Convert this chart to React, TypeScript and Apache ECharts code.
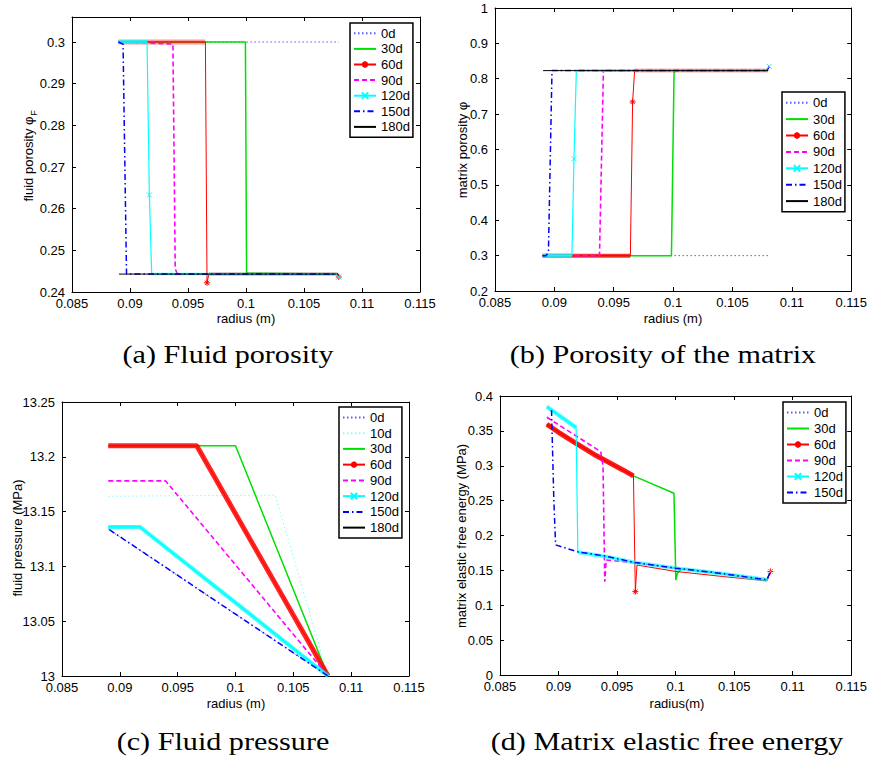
import React, { useEffect, useRef } from 'react';
import * as echarts from 'echarts';

// ---------- legend entries ----------
const DAYS_A = ['0d', '30d', '60d', '90d', '120d', '150d', '180d'];
const DAYS_B = ['0d', '30d', '60d', '90d', '120d', '150d', '180d'];
const DAYS_C = ['0d', '10d', '30d', '60d', '90d', '120d', '150d', '180d'];
const DAYS_D = ['0d', '30d', '60d', '90d', '120d', '150d'];

// ---------- axis ranges [min, max, interval] ----------
const RADIUS_RANGE = [0.085, 0.115, 0.005];
const Y_RANGE_A = [0.24, 0.306, 0.01];
const Y_RANGE_B = [0.2, 1, 0.1];
const Y_RANGE_C = [13, 13.25, 0.05];
const Y_RANGE_D = [0, 0.4, 0.05];

// ---------- (a) fluid porosity ----------
const aPhiF0d = [[0.089, 0.3], [0.108, 0.3]];
const aPhiF30d = [[0.089, 0.3], [0.09995, 0.3], [0.10005, 0.2445], [0.1079, 0.2443], [0.108, 0.2436]];
const aPhiF60dTop = [[0.089, 0.3], [0.0965, 0.3]];
const aPhiF60dDip = [[0.09664, 0.2422]];
const aPhiF60dBottom = [[0.0968, 0.2443], [0.1079, 0.2443]];
const aPhiF60dEnd = [[0.108, 0.2436]];
const aPhiF90d = [[0.089, 0.3], [0.0937, 0.2995], [0.0939, 0.2455], [0.0941, 0.2443], [0.108, 0.2443]];
const aPhiF120dTop = [[0.089, 0.3], [0.09147, 0.3]];
const aPhiF120dMid = [[0.09167, 0.2633]];
const aPhiF120dBottom = [[0.09187, 0.2443], [0.1079, 0.2443]];
const aPhiF120dEnd = [[0.108, 0.2436]];
const aPhiF150d = [[0.089, 0.3], [0.0894, 0.2995], [0.0897, 0.2443], [0.1079, 0.2443], [0.108, 0.2436]];
const aPhiF180d = [[0.08905, 0.2443], [0.1078, 0.2443]];

// ---------- (b) matrix porosity ----------
const bPhi0d = [[0.089, 0.3], [0.108, 0.3]];
const bPhi30d = [[0.089, 0.3], [0.09986, 0.3], [0.10008, 0.818], [0.1003, 0.823], [0.108, 0.823]];
const bPhi60dLow = [[0.089, 0.3], [0.0964, 0.3]];
const bPhi60dMid = [[0.09659, 0.7345]];
const bPhi60dHigh = [[0.09676, 0.823], [0.108, 0.823]];
const bPhi90d = [[0.089, 0.3], [0.0938, 0.3], [0.09413, 0.823], [0.108, 0.823]];
const bPhi120dLow = [[0.089, 0.3], [0.09148, 0.3]];
const bPhi120dMid = [[0.09165, 0.574]];
const bPhi120dHigh = [[0.09185, 0.823], [0.1079, 0.823]];
const bPhi120dEnd = [[0.1081, 0.835]];
const bPhi150d = [[0.089, 0.3], [0.0893, 0.3], [0.0895, 0.31], [0.0898, 0.823], [0.1079, 0.823], [0.1081, 0.835]];
const bPhi180d = [[0.08905, 0.823], [0.108, 0.823]];

// ---------- (c) fluid pressure ----------
const cP0d = [[0.089, 13.134], [0.108, 13.0]];
const cP10d = [[0.089, 13.164], [0.10344, 13.165], [0.108, 13.0]];
const cP30d = [[0.089, 13.21], [0.1, 13.21], [0.108, 13.0]];
const cP60d = [[0.089, 13.21], [0.09665, 13.21], [0.108, 13.0]];
const cP90d = [[0.089, 13.178], [0.09396, 13.178], [0.108, 13.0]];
const cP120d = [[0.089, 13.136], [0.09174, 13.136], [0.108, 13.0]];
const cP150d = [[0.0891, 13.1335], [0.108, 13.0]];
const cP180d: number[][] = [];

// ---------- (d) matrix elastic free energy ----------
const dLowerTail = [[0.0965, 0.1613], [0.1, 0.1532], [0.1037, 0.146], [0.1078, 0.1365]];
const dEnd = [[0.1081, 0.1485]];
const dE0d: number[][] = [];
const dE30d = [[0.089, 0.3595], [0.0915, 0.3322], [0.094, 0.3075], [0.0964, 0.2854], [0.09986, 0.2606], [0.10002, 0.136], [0.10016, 0.146], [0.1005, 0.1525], [0.1037, 0.146], [0.1078, 0.1365], [0.1081, 0.1485]];
const dE60dUpper = [[0.089, 0.3595], [0.09, 0.348], [0.0915, 0.3322], [0.093, 0.3165], [0.094, 0.3075], [0.0955, 0.294], [0.0964, 0.2854]];
const dE60dDip = [[0.09656, 0.1195]];
const dE60dLower = [[0.0967, 0.1576], [0.1, 0.1485], [0.104, 0.1412], [0.1078, 0.135]];
const dE90dHead = [[0.089, 0.3695], [0.0936, 0.3203], [0.0938, 0.3], [0.09395, 0.1337], [0.09407, 0.1648]];
const dE120dUpper = [[0.089, 0.3847], [0.0915, 0.3547]];
const dE120dLower = [[0.09165, 0.1761], [0.094, 0.17]];
const dE150dHead = [[0.0894, 0.38], [0.0896, 0.25], [0.08975, 0.1866], [0.09165, 0.1765], [0.094, 0.1705]];

// ---------- styling ----------
const SANS = "'Liberation Sans', Arial, Helvetica, sans-serif";
const SERIF = "'Liberation Serif', 'Times New Roman', serif";
const STAR = 'path://M5,0L5,10M0,5L10,5M1.5,1.5L8.5,8.5M1.5,8.5L8.5,1.5';
const XMARK = 'path://M0,0L10,10M0,10L10,0';

const STY: Record<string, any> = {
  '0d': { color: '#5a5aff', type: [1.5, 2.5], width: 1 },
  '10d': { color: '#80ffff', type: [1.5, 2.5], width: 1 },
  '30d': { color: '#00e000', type: 'solid', width: 1.5 },
  '60d': { color: '#ff0000', type: 'solid', width: 1, symbol: STAR, symbolSize: 6 },
  '90d': { color: '#ff00ff', type: [5, 3], width: 1.6 },
  '120d': { color: '#00ffff', type: 'solid', width: 1.2, symbol: XMARK, symbolSize: 5 },
  '150d': { color: '#0000ff', type: [6, 3, 1.5, 3], width: 1.5 },
  '180d': { color: '#000000', type: 'solid', width: 1 },
};

// data: list of point arrays; marked: the arrays whose points carry a marker
function line(name: string, parts: number[][][], gi: number, marked: number[][][] = []) {
  const s = STY[name];
  const data: any[] = [];
  parts.forEach((p) => {
    const m = marked.includes(p);
    p.forEach((v) => data.push(m ? { value: v } : { value: v, symbol: 'none' }));
  });
  return {
    type: 'line',
    name,
    data,
    xAxisIndex: gi,
    yAxisIndex: gi,
    symbol: s.symbol || 'circle',
    symbolSize: s.symbolSize || 4,
    showSymbol: !!s.symbol,
    showAllSymbol: true,
    lineStyle: { color: s.color, width: s.width, type: s.type },
    itemStyle: { color: s.color, borderColor: s.color, borderWidth: 1 },
    emphasis: { disabled: true },
    silent: true,
  };
}

function band(name: string, data: number[][], gi: number, width: number, opacity: number) {
  return {
    type: 'line',
    data,
    xAxisIndex: gi,
    yAxisIndex: gi,
    symbol: 'none',
    silent: true,
    emphasis: { disabled: true },
    lineStyle: { color: STY[name].color, width, opacity, type: 'solid' },
  };
}

const fmt = (v: number) => String(parseFloat(v.toFixed(4)));

const GRIDS = [
  { left: 72, top: 17, width: 348, height: 275 },
  { left: 495, top: 8, width: 358, height: 283 },
  { left: 62, top: 402, width: 347, height: 274 },
  { left: 500, top: 396, width: 353, height: 279 },
];
const Y_RANGES = [Y_RANGE_A, Y_RANGE_B, Y_RANGE_C, Y_RANGE_D];

function legendItems(days: string[]) {
  return days.map((n) => (STY[n].symbol ? { name: n } : { name: n, itemStyle: { opacity: 0 } }));
}

function buildOption() {
  const xAxis: any[] = [];
  const yAxis: any[] = [];
  const axisCommon = (show: boolean) => ({
    type: 'value',
    axisLine: { show: true, onZero: false, lineStyle: { color: '#000', width: 1 } },
    axisTick: { show: true, inside: true, length: 4, lineStyle: { color: '#000' } },
    splitLine: { show: false },
    axisLabel: { show, color: '#000', fontSize: 13, fontFamily: SANS, formatter: fmt },
  });
  for (let pass = 0; pass < 2; pass++) {
    for (let i = 0; i < 4; i++) {
      const c = axisCommon(pass === 0);
      xAxis.push({
        ...c,
        gridIndex: i,
        position: pass === 0 ? 'bottom' : 'top',
        min: RADIUS_RANGE[0],
        max: RADIUS_RANGE[1],
        interval: RADIUS_RANGE[2],
        axisLabel: { ...c.axisLabel, margin: 5 },
      });
      const yr = Y_RANGES[i];
      const cy = axisCommon(pass === 0);
      yAxis.push({
        ...cy,
        gridIndex: i,
        position: pass === 0 ? 'left' : 'right',
        min: yr[0],
        max: yr[1],
        interval: yr[2],
        axisLabel: { ...cy.axisLabel, margin: 7, showMaxLabel: i !== 0 },
      });
    }
  }

  const series: any[] = [
    // (a)
    line('0d', [aPhiF0d], 0),
    line('30d', [aPhiF30d], 0),
    line('60d', [aPhiF60dTop, aPhiF60dDip, aPhiF60dBottom, aPhiF60dEnd], 0, [aPhiF60dDip, aPhiF60dEnd]),
    band('60d', aPhiF60dTop, 0, 5, 0.4),
    band('60d', aPhiF60dBottom, 0, 4, 0.25),
    line('90d', [aPhiF90d], 0),
    line('120d', [aPhiF120dTop, aPhiF120dMid, aPhiF120dBottom, aPhiF120dEnd], 0, [aPhiF120dMid, aPhiF120dEnd]),
    band('120d', aPhiF120dTop, 0, 4, 0.75),
    band('120d', aPhiF120dBottom, 0, 3, 0.35),
    line('150d', [aPhiF150d], 0),
    line('180d', [aPhiF180d], 0),
    // (b)
    line('0d', [bPhi0d], 1),
    line('30d', [bPhi30d], 1),
    line('60d', [bPhi60dLow, bPhi60dMid, bPhi60dHigh], 1, [bPhi60dMid]),
    band('60d', bPhi60dLow, 1, 4, 0.8),
    band('60d', bPhi60dHigh, 1, 4, 0.3),
    line('90d', [bPhi90d], 1),
    line('120d', [bPhi120dLow, bPhi120dMid, bPhi120dHigh, bPhi120dEnd], 1, [bPhi120dMid, bPhi120dEnd]),
    band('120d', bPhi120dLow, 1, 4, 0.8),
    band('120d', bPhi120dHigh, 1, 3, 0.45),
    line('150d', [bPhi150d], 1),
    line('180d', [bPhi180d], 1),
    // (c)
    line('0d', [cP0d], 2),
    line('10d', [cP10d], 2),
    line('30d', [cP30d], 2),
    line('60d', [cP60d], 2),
    band('60d', cP60d, 2, 5, 0.85),
    line('90d', [cP90d], 2),
    line('120d', [cP120d], 2),
    band('120d', cP120d, 2, 4, 0.8),
    line('150d', [cP150d], 2),
    line('180d', [cP180d], 2),
    // (d)
    line('0d', [dE0d], 3),
    line('30d', [dE30d], 3),
    line('60d', [dE60dUpper, dE60dDip, dE60dLower, dEnd], 3, [dE60dDip, dEnd]),
    band('60d', dE60dUpper, 3, 5, 0.9),
    line('90d', [dE90dHead, dLowerTail, dEnd], 3),
    line('120d', [dE120dUpper, dE120dLower, dLowerTail, dEnd], 3, [dEnd]),
    band('120d', dE120dUpper, 3, 4, 0.8),
    band('120d', [...dE120dLower, ...dLowerTail], 3, 4, 0.6),
    line('150d', [dE150dHead, dLowerTail, dEnd], 3),
  ];

  const legendCommon = (lh: number) => ({
    orient: 'vertical',
    itemWidth: 22,
    itemHeight: 8,
    itemGap: 0,
    padding: [2.5, 3, 2.5, 3],
    borderColor: '#000',
    borderWidth: 1.5,
    borderRadius: 0,
    backgroundColor: '#fff',
    selectedMode: false,
    textStyle: { fontSize: 13, fontFamily: SANS, color: '#000', lineHeight: lh },
  });
  const legend = [
    { ...legendCommon(15.6), data: legendItems(DAYS_A), left: 350, top: 23 },
    { ...legendCommon(16.4), data: legendItems(DAYS_B), left: 782, top: 92 },
    { ...legendCommon(15.75), data: legendItems(DAYS_C), left: 339, top: 407 },
    { ...legendCommon(16), data: legendItems(DAYS_D), left: 783, top: 402 },
  ];

  const t = (text: string, x: number, y: number, size: number, font: string, rot = 0, sx = 1) => ({
    type: 'text',
    x,
    y,
    rotation: rot,
    scaleX: sx,
    silent: true,
    style: { text, fontSize: size, fontFamily: font, fill: '#000', align: 'center', verticalAlign: 'middle' },
  });
  const R = Math.PI / 2;
  const CAP = 1.16;
  const graphic = [
    t('fluid porosity φ', 28, 159, 13, SANS, R),
    t('F', 34, 113, 9, SANS, R),
    t('matrix porosity φ', 462.5, 150, 13, SANS, R),
    t('fluid pressure (MPa)', 17, 538, 13, SANS, R),
    t('matrix elastic free energy (MPa)', 461, 536, 13, SANS, R),
    t('radius (m)', 246, 318, 13, SANS),
    t('radius (m)', 673, 318, 13, SANS),
    t('radius (m)', 236, 703, 13, SANS),
    t('radius(m)', 677, 703, 13, SANS),
    t('(a) Fluid porosity', 228, 354, 26, SERIF, 0, CAP),
    t('(b) Porosity of the matrix', 663, 354, 26, SERIF, 0, CAP),
    t('(c) Fluid pressure', 223, 741, 26, SERIF, 0, CAP),
    t('(d) Matrix elastic free energy', 667, 741, 26, SERIF, 0, CAP),
  ];

  return {
    animation: false,
    backgroundColor: '#fff',
    grid: GRIDS.map((g) => ({ ...g, containLabel: false, show: false })),
    xAxis,
    yAxis,
    legend,
    series,
    graphic,
  };
}

export default function App() {
  const ref = useRef<HTMLDivElement>(null);
  useEffect(() => {
    if (!ref.current) return;
    const chart = echarts.init(ref.current, undefined, { renderer: 'svg' });
    chart.setOption(buildOption() as any);
    return () => chart.dispose();
  }, []);
  return (
    <div
      ref={ref}
      style={{ position: 'absolute', left: 0, top: 0, width: 870, height: 758, background: '#fff' }}
    />
  );
}
